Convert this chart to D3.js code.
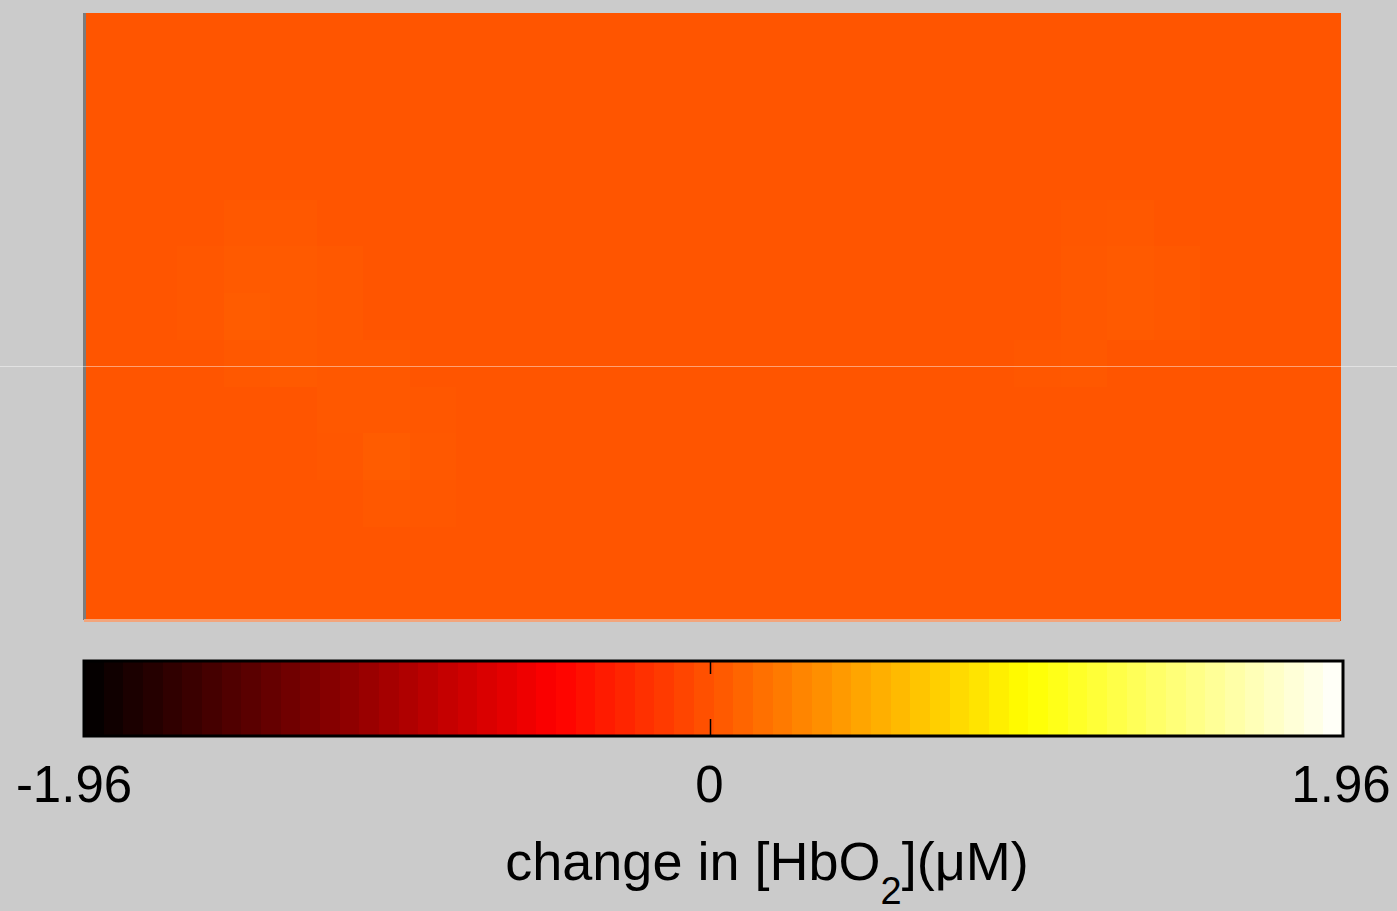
<!DOCTYPE html>
<html><head><meta charset="utf-8">
<script src="https://cdn.jsdelivr.net/npm/d3@7"></script>
<style>html,body{margin:0;padding:0;background:#cbcbcb;}svg{display:block;}</style>
</head><body>
<svg id="chart" width="1397" height="911"></svg>
<script>
// Data: change in [HbO2] (µM), grid of 27 columns x 13 rows
const colorMin = -1.96, colorMax = 1.96;
const tickValues = [-1.96, 0, 1.96];
const tickLabels = ["-1.96", "0", "1.96"];
const heatRows = [
 [0,0,0,0,0,0,0,0,0,0,0,0,0,0,0,0,0,0,0,0,0,0,0,0,0,0,0],
 [0,0,0,0,0,0,0,0,0,0,0,0,0,0,0,0,0,0,0,0,0,0,0,0,0,0,0],
 [0,0,0,0,0,0,0,0,0,0,0,0,0,0,0,0,0,0,0,0,0,0,0,0,0,0,0],
 [0,0,0,0,0,0,0,0,0,0,0,0,0,0,0,0,0,0,0,0,0,0,0,0,0,0,0],
 [0,0,0,0.02,0.02,0,0,0,0,0,0,0,0,0,0,0,0,0,0,0,0,0.01,0.02,0,0,0,0],
 [0,0,0.01,0.03,0.03,0.02,0,0,0,0,0,0,0,0,0,0,0,0,0,0,0,0.02,0.03,0.02,0,0,0],
 [0,0,0.01,0.04,0.03,0.02,0,0,0,0,0,0,0,0,0,0,0,0,0,0,0,0.02,0.03,0.02,0,0,0],
 [0,0,0,0.02,0.03,0.02,0.02,0,0,0,0,0,0,0,0,0,0,0,0,0,0.01,0.02,0,0,0,0,0],
 [0,0,0,0,0,0.02,0.02,0.01,0,0,0,0,0,0,0,0,0,0,0,0,0,0,0,0,0,0,0],
 [0,0,0,0,0,0.01,0.04,0.02,0,0,0,0,0,0,0,0,0,0,0,0,0,0,0,0,0,0,0],
 [0,0,0,0,0,0,0.02,0.01,0,0,0,0,0,0,0,0,0,0,0,0,0,0,0,0,0,0,0],
 [0,0,0,0,0,0,0,0,0,0,0,0,0,0,0,0,0,0,0,0,0,0,0,0,0,0,0],
 [0,0,0,0,0,0,0,0,0,0,0,0,0,0,0,0,0,0,0,0,0,0,0,0,0,0,0]
];
const colorbarSteps = 64;

const svg = d3.select("#chart");
const plot = {x0: 84, x1: 1340, y0: 13, y1: 620};
const cb = {x0: 84, x1: 1343, y0: 661, y1: 736};

// "hot" colormap
const hot = d3.scaleLinear().domain([0, 0.375, 0.75, 1])
  .range(["#000000", "#ff0000", "#ffff00", "#ffffff"]).clamp(true);
const norm = d3.scaleLinear().domain([colorMin, colorMax]).range([0, 1]).clamp(true);
const colorOf = v => hot(norm(v));

const nCols = heatRows[0].length, nRows = heatRows.length;
const xCell = d3.scaleBand().domain(d3.range(nCols)).range([plot.x0, plot.x1]);
const yCell = d3.scaleBand().domain(d3.range(nRows)).range([plot.y0, plot.y1]);

const cells = [];
heatRows.forEach((row, r) => row.forEach((v, c) => cells.push({r, c, v})));
svg.append("g").selectAll("rect").data(cells).join("rect")
  .attr("x", d => xCell(d.c)).attr("y", d => yCell(d.r))
  .attr("width", xCell.bandwidth() + 0.5).attr("height", yCell.bandwidth() + 0.5)
  .attr("fill", d => colorOf(d.v)).attr("shape-rendering", "crispEdges");

// left edge (axis) and soft bottom edge
svg.append("rect").attr("x", plot.x0 - 1).attr("y", plot.y0).attr("width", 3)
  .attr("height", plot.y1 - plot.y0).attr("fill", "#7c7c7c");
svg.append("rect").attr("x", plot.x0).attr("y", plot.y1 - 1).attr("width", plot.x1 - plot.x0)
  .attr("height", 3).attr("fill", "#f3a57c");

// thin horizontal line across the figure
svg.append("line").attr("x1", 0).attr("x2", 1397).attr("y1", 366.5).attr("y2", 366.5)
  .attr("stroke", "#ffffff").attr("stroke-opacity", 0.45).attr("stroke-width", 1);

// colorbar
const xcb = d3.scaleLinear().domain([colorMin, colorMax]).range([cb.x0, cb.x1]);
const steps = d3.range(colorbarSteps);
const stepW = (cb.x1 - cb.x0) / colorbarSteps;
svg.append("g").selectAll("rect").data(steps).join("rect")
  .attr("x", i => cb.x0 + i * stepW).attr("y", cb.y0)
  .attr("width", stepW + 0.6).attr("height", cb.y1 - cb.y0)
  .attr("fill", i => hot((i + 0.5) / colorbarSteps)).attr("shape-rendering", "crispEdges");
svg.append("rect").attr("x", cb.x0).attr("y", cb.y0).attr("width", cb.x1 - cb.x0)
  .attr("height", cb.y1 - cb.y0).attr("fill", "none").attr("stroke", "#000").attr("stroke-width", 3);

// inner ticks
const inner = tickValues.filter(v => v > colorMin && v < colorMax);
svg.append("g").selectAll("line.t1").data(inner).join("line")
  .attr("x1", d => xcb(d) - 3).attr("x2", d => xcb(d) - 3)
  .attr("y1", cb.y0).attr("y2", cb.y0 + 13).attr("stroke", "#000").attr("stroke-width", 1.5);
svg.append("g").selectAll("line.t2").data(inner).join("line")
  .attr("x1", d => xcb(d) - 3).attr("x2", d => xcb(d) - 3)
  .attr("y1", cb.y1 - 17).attr("y2", cb.y1).attr("stroke", "#000").attr("stroke-width", 1.5);

// tick labels
svg.append("g").selectAll("text").data(tickValues).join("text")
  .attr("x", d => xcb(d)).attr("y", 802)
  .attr("dx", (d, i) => i === 0 ? -10 : (i === tickValues.length - 1 ? -2 : -4))
  .attr("text-anchor", "middle")
  .attr("font-family", "Liberation Sans, Arial, sans-serif").attr("font-size", 51)
  .attr("fill", "#000").text((d, i) => tickLabels[i]);

// colorbar label
const lab = svg.append("text").attr("x", 767).attr("y", 880).attr("text-anchor", "middle")
  .attr("font-family", "Liberation Sans, Arial, sans-serif").attr("font-size", 54).attr("fill", "#000");
lab.append("tspan").text("change in [HbO");
lab.append("tspan").attr("font-size", 38).attr("dy", 24).text("2");
lab.append("tspan").attr("dy", -24).text("](");
lab.append("tspan").text("μ");
lab.append("tspan").text("M)");
</script>
</body></html>
